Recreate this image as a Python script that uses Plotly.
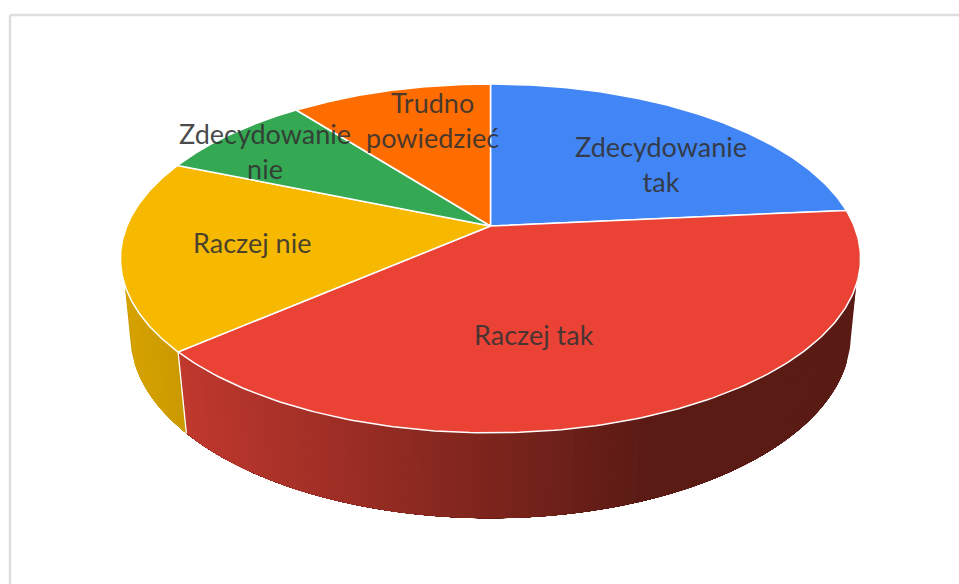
import numpy as np
import plotly.graph_objects as go

# Data (percent shares, clockwise from the top)
categories = ["Zdecydowanie tak", "Raczej tak", "Raczej nie", "Zdecydowanie nie", "Trudno powiedzieć"]
values = [23.5, 40.1, 17.7, 8.2, 10.5]
label_lines = ["Zdecydowanie<br>tak", "Raczej tak", "Raczej nie", "Zdecydowanie<br>nie", "Trudno<br>powiedzieć"]

# Styles
top_colors = ["#4285f4", "#ea4335", "#f7b900", "#34a853", "#ff6d00"]
label_x = [661, 534, 251.5, 265, 432.5]
label_y = [163.5, 334.5, 242.5, 150.5, 119.5]

# Projection of the tilted disc, in screen pixels
CX, CY = 490.5, 226.0
B, A, K = 363.6, 168.4, 0.186
BOT_CY, BOT_A, BOT_B = 301.0, 176.8, 354.0
WALL_START, WALL_END = np.radians(109.2), np.radians(250.8)
BOT_START, BOT_END = np.radians(102.2), np.radians(257.8)


def project(theta, cy=CY, a=A, b=B):
    u, v = np.sin(theta), -np.cos(theta)
    w = 1 - K * v
    return CX + b * u / w, cy + a * v / w


def bottom(theta):
    return project(theta, BOT_CY, BOT_A, BOT_B)


def mix(c1, c2, t):
    t = min(max(t, 0.0), 1.0)
    r, g, bl = [round(p + (q - p) * t) for p, q in zip(c1, c2)]
    return f"rgb({r},{g},{bl})"


shares = np.array(values) / sum(values) * 2 * np.pi
edges = np.concatenate([[0], np.cumsum(shares)])
split = edges[2]

fig = go.Figure()


def poly(xs, ys, fill, line=None, width=0.0):
    fig.add_trace(go.Scatter(x=list(xs), y=list(ys), mode="lines", fill="toself",
                             fillcolor=fill, line=dict(color=line or fill, width=width),
                             hoverinfo="skip", showlegend=False))


def wall_poly(top_a, top_b, bot_a, bot_b, fill):
    tt = np.linspace(top_a, top_b, 90)
    bt = np.linspace(bot_b, bot_a, 90)
    px, py = project(tt)
    qx, qy = bottom(bt)
    poly(np.concatenate([px, qx, px[:1]]), np.concatenate([py, qy, py[:1]]), fill)


# Side wall: overlapping layers painted in turn, each shaded by horizontal position
RED_L, RED_R = (192, 56, 46), (90, 27, 20)
YEL_L, YEL_R = (214, 163, 0), (202, 153, 0)

wall_poly(WALL_START, split, BOT_START, split, mix(RED_L, RED_R, 1.0))
for th in np.linspace(WALL_START, split, 121)[:-1]:
    xm = (project(th)[0] + bottom(th)[0]) / 2
    wall_poly(th, split, th, split, mix(RED_L, RED_R, (xm - 185) / (650 - 185)))

wall_poly(split, WALL_END, split, BOT_END, mix(YEL_L, YEL_R, 1.0))
for th in np.linspace(WALL_END, split, 25)[:-1]:
    xm = (project(th)[0] + bottom(th)[0]) / 2
    wall_poly(split, th, split, th, mix(YEL_L, YEL_R, (xm - 125) / (185 - 125)))

# White edge between the two visible wall parts
sx0, sy0 = project(split)
sx1, sy1 = bottom(split)
fig.add_trace(go.Scatter(x=[sx0, sx1], y=[sy0, sy1], mode="lines",
                         line=dict(color="white", width=1.3), hoverinfo="skip", showlegend=False))

# Top face
for i in range(len(values)):
    th = np.linspace(edges[i], edges[i + 1], 160)
    px, py = project(th)
    xs = np.concatenate([[CX], px, [CX]])
    ys = np.concatenate([[CY], py, [CY]])
    poly(xs, ys, top_colors[i], line="white", width=1.5)

# Chart frame, left and top sides only
frame = dict(type="line", xref="x", yref="y", line=dict(color="#dedede", width=2.5))
fig.add_shape(x0=10, x1=10, y0=15, y1=584, **frame)
fig.add_shape(x0=10, x1=959, y0=15, y1=15, **frame)

for txt, lx, ly in zip(label_lines, label_x, label_y):
    fig.add_annotation(x=lx, y=ly, text=txt, showarrow=False, align="center",
                       font=dict(family="Lato", size=27, color="rgba(50,50,50,0.9)"))

fig.update_layout(
    width=959, height=584, margin=dict(l=0, r=0, t=0, b=0),
    paper_bgcolor="white", plot_bgcolor="white", showlegend=False,
    xaxis=dict(range=[0, 959], visible=False, fixedrange=True),
    yaxis=dict(range=[584, 0], visible=False, fixedrange=True),
)
fig.write_html("out.html", post_script="document.body.style.margin='0';",
               config={"displayModeBar": False})
